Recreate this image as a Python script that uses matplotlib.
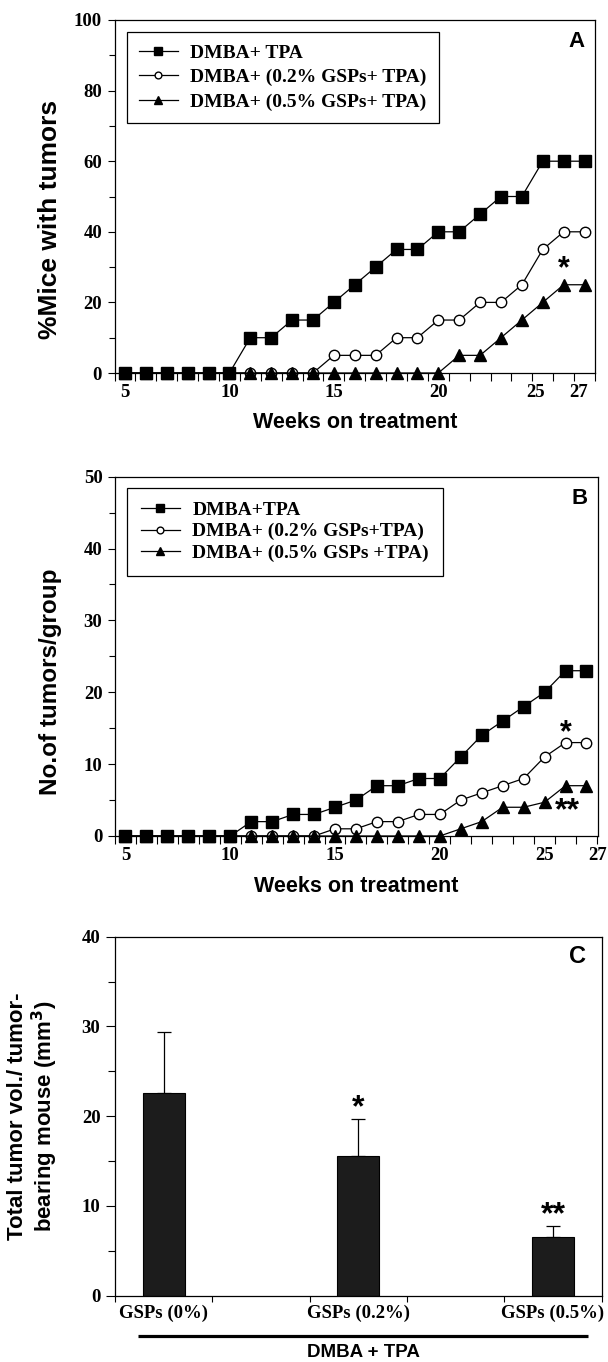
import matplotlib
matplotlib.use('Agg')
import matplotlib.pyplot as plt
import numpy as np
from matplotlib.ticker import FixedLocator, MultipleLocator

plt.rcParams['font.family'] = ['Liberation Serif', 'DejaVu Serif']
plt.rcParams['font.weight'] = 'bold'

# ---------------- data ----------------
weeks = list(range(5, 28))

a_tpa    = [0, 0, 0, 0, 0, 0, 10, 10, 15, 15, 20, 25, 30, 35, 35, 40, 40, 45, 50, 50, 60, 60, 60]
a_gsp02  = [0, 0, 0, 0, 0, 0, 0, 0, 0, 0, 5, 5, 5, 10, 10, 15, 15, 20, 20, 25, 35, 40, 40]
a_gsp05  = [0, 0, 0, 0, 0, 0, 0, 0, 0, 0, 0, 0, 0, 0, 0, 0, 5, 5, 10, 15, 20, 25, 25]
a_labels = ['DMBA+ TPA', 'DMBA+ (0.2% GSPs+ TPA)', 'DMBA+ (0.5% GSPs+ TPA)']
a_xticklabels = ['5', '10', '15', '20', '25', '27']

b_tpa    = [0, 0, 0, 0, 0, 0, 2, 2, 3, 3, 4, 5, 7, 7, 8, 8, 11, 14, 16, 18, 20, 23, 23]
b_gsp02  = [0, 0, 0, 0, 0, 0, 0, 0, 0, 0, 1, 1, 2, 2, 3, 3, 5, 6, 7, 8, 11, 13, 13]
b_gsp05  = [0, 0, 0, 0, 0, 0, 0, 0, 0, 0, 0, 0, 0, 0, 0, 0, 1, 2, 4, 4, 4.7, 7, 7]
b_labels = ['DMBA+TPA', 'DMBA+ (0.2% GSPs+TPA)', 'DMBA+ (0.5% GSPs +TPA)']
b_xticklabels = ['5', '10', '15', '20', '25', '27']

c_groups = ['GSPs (0%)', 'GSPs (0.2%)', 'GSPs (0.5%)']
c_values = [22.6, 15.5, 6.5]
c_err_up = [6.8, 4.2, 1.3]
c_signif = ['', '*', '**']

W, H = 608, 1362
fig = plt.figure(figsize=(W / 100, H / 100), dpi=100)


def add_ax(left, right, top, bottom):
    return fig.add_axes([left / W, 1 - bottom / H, (right - left) / W, (bottom - top) / H])


SANS = 'Liberation Sans'
TICK_FS = 13.5


def style_axes(ax):
    for s in ax.spines.values():
        s.set_linewidth(0.9)
    ax.tick_params(axis='both', which='both', direction='out', width=0.8,
                   labelsize=TICK_FS, top=False, right=False)
    ax.tick_params(axis='y', which='major', length=5, pad=4)
    ax.tick_params(axis='y', which='minor', length=4.5)
    ax.tick_params(axis='x', which='major', length=0, pad=8)
    ax.tick_params(axis='x', which='minor', length=5.5)


def line_panel(ax, s1, s2, s3, labels, xlim, ylim, ymaj, ymin_, xtickpos, xticklabels,
               ylabel, ylabel_fs, ylabel_y, letter, leg_anchor, labelspacing, borderpad):
    l3 = ax.plot(weeks, s3, '-', color='black', lw=0.9, marker='^', ms=8.5,
                 mfc='black', mec='black', clip_on=False, zorder=3)[0]
    l2 = ax.plot(weeks, s2, '-', color='black', lw=0.9, marker='o', ms=7.5,
                 mfc='white', mec='black', mew=1.0, clip_on=False, zorder=2)[0]
    l1 = ax.plot(weeks, s1, '-', color='black', lw=0.9, marker='s', ms=8.5,
                 mfc='black', mec='black', clip_on=False, zorder=4)[0]
    ax.set_xlim(*xlim)
    ax.set_ylim(*ylim)
    ax.yaxis.set_major_locator(MultipleLocator(ymaj))
    ax.yaxis.set_minor_locator(MultipleLocator(ymin_))
    ax.xaxis.set_major_locator(FixedLocator(xtickpos))
    ax.set_xticklabels(xticklabels)
    ax.xaxis.set_minor_locator(FixedLocator(np.arange(4.5, xlim[1] + 0.01, 1.0)))
    style_axes(ax)
    ax.text(0.5, -0.141, 'Weeks on treatment', transform=ax.transAxes, ha='center',
            va='center', family=SANS, weight='bold', fontsize=15.5)
    ax.text(-0.134, ylabel_y, ylabel, transform=ax.transAxes, rotation=90, ha='center',
            va='center', family=SANS, weight='bold', fontsize=ylabel_fs)
    ax.text(0.962, 0.94, letter, transform=ax.transAxes, ha='center', va='center',
            family=SANS, weight='bold', fontsize=16)
    leg = ax.legend([l1, l2, l3], labels, loc='upper left', bbox_to_anchor=leg_anchor,
                    borderaxespad=0, frameon=True, fancybox=False, framealpha=1,
                    edgecolor='black', prop=dict(family='Liberation Serif', weight='bold', size=14),
                    handlelength=2.0, handletextpad=0.65, labelspacing=labelspacing,
                    borderpad=borderpad, markerscale=0.65)
    leg.get_frame().set_linewidth(0.9)
    return ax


def star(ax, x, y, s, fs=22):
    ax.text(x, y, s, ha='center', va='center', family=SANS, weight='bold', fontsize=fs,
            zorder=6)


# ---------------- Panel A ----------------
axA = add_ax(114.5, 595, 20, 373)
line_panel(axA, a_tpa, a_gsp02, a_gsp05, a_labels, (4.5, 27.5), (0, 100), 20, 10,
           [5, 10, 15, 20, 24.65, 26.7], a_xticklabels, '%Mice with tumors', 19, 0.435, 'A',
           (0.0266, 0.965), 0.36, 0.6)
star(axA, 26, 29.5, '*')

# ---------------- Panel B ----------------
axB = add_ax(115, 598, 476.7, 836)
line_panel(axB, b_tpa, b_gsp02, b_gsp05, b_labels, (4.5, 27.55), (0, 50), 10, 5,
           [5, 10, 15, 20, 25, 27.55], b_xticklabels, 'No.of tumors/group', 17.5, 0.43, 'B',
           (0.0255, 0.9694), 0.2, 0.7)
star(axB, 26.0, 14.3, '*')
star(axB, 26.1, 3.4, '**', fs=23)

# ---------------- Panel C ----------------
axC = add_ax(115, 601.7, 936.7, 1295.5)
pos = np.arange(len(c_groups))
axC.bar(pos, c_values, width=0.215, color='#1c1c1c', edgecolor='black', linewidth=0.8,
        zorder=2)
axC.errorbar(pos, c_values, yerr=[np.zeros(len(c_values)), c_err_up], fmt='none',
             ecolor='black', elinewidth=0.9, capsize=4.7, capthick=0.9, zorder=1)
axC.set_xlim(-0.25, 2.25)
axC.set_ylim(0, 40)
axC.yaxis.set_major_locator(MultipleLocator(10))
axC.yaxis.set_minor_locator(MultipleLocator(5))
axC.xaxis.set_major_locator(FixedLocator(pos))
axC.set_xticklabels(c_groups)
axC.xaxis.set_minor_locator(FixedLocator(np.arange(-0.25, 2.26, 0.5)))
style_axes(axC)
axC.tick_params(axis='y', which='major', length=6.5, pad=4)
axC.tick_params(axis='y', which='minor', length=5)
axC.tick_params(axis='x', which='major', length=0, pad=6.5)
axC.tick_params(axis='x', which='minor', length=4.5)
for p, v, e, s in zip(pos, c_values, c_err_up, c_signif):
    if s:
        star(axC, p, v + e + 1.2, s, fs=23)
axC.text(0.951, 0.944, 'C', transform=axC.transAxes, ha='center', va='center',
         family=SANS, weight='bold', fontsize=17)
axC.text(-0.168, 0.5, 'Total tumor vol./ tumor-\nbearing mouse (mm$^3$)',
         transform=axC.transAxes, rotation=90, ha='center', va='center',
         family=SANS, weight='bold', fontsize=16, linespacing=1.1)
axC.plot([0.0473, 0.972], [-0.1129, -0.1129], transform=axC.transAxes, color='black',
         lw=2.3, clip_on=False, solid_capstyle='butt')
axC.text(0.5096, -0.160, 'DMBA + TPA', transform=axC.transAxes, ha='center', va='center',
         family=SANS, weight='bold', fontsize=13.5)

fig.savefig('out.png', dpi=100)
